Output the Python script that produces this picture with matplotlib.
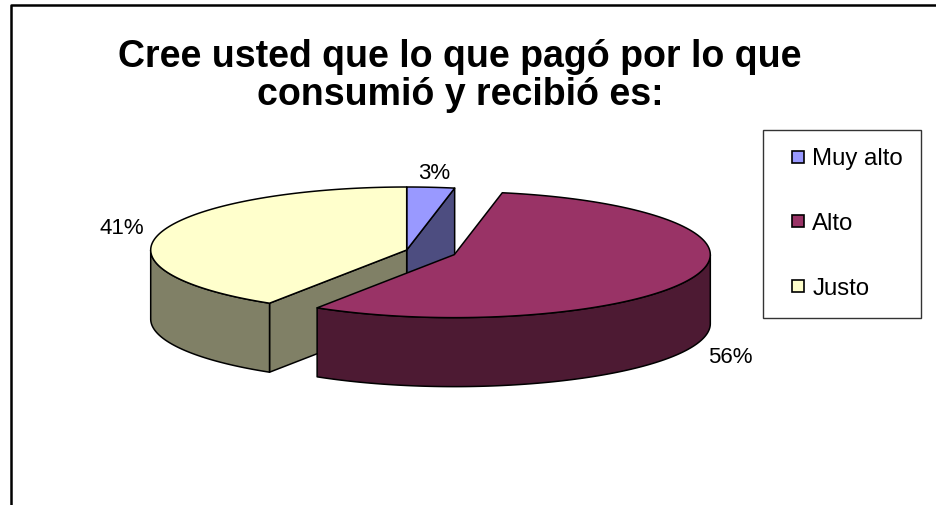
"""3-D style pie chart: Cree usted que lo que pagó por lo que consumió y recibió es."""
import numpy as np
import matplotlib
matplotlib.use("Agg")
import matplotlib.pyplot as plt
from matplotlib.patches import Polygon
from matplotlib.lines import Line2D

# data
labels = ["Muy alto", "Alto", "Justo"]
values = [3, 56, 41]
top_colors = ["#9999FF", "#993366", "#FFFFCC"]
side_colors = ["#4D4D80", "#4D1A33", "#808066"]
explode = [0.0, 0.2, 0.0]
title = "Cree usted que lo que pagó por lo que\nconsumió y recibió es:"

plt.rcParams["font.family"] = ["Liberation Sans", "DejaVu Sans"]

# layout (pixel space, y grows downward)
W, H = 937, 505
CX, CY = 406.7, 250.0      # centre of the top face
RA, RB = 256.0, 63.0       # ellipse radii
DEPTH = 69.0               # pie thickness
LW = 1.1


def ell(theta, cx, cy, dz=0.0):
    t = np.radians(theta)
    return np.column_stack([cx + RA * np.sin(t), cy - RB * np.cos(t) + dz])


def arc(t0, t1, cx, cy, dz=0.0, n=120):
    return ell(np.linspace(t0, t1, n), cx, cy, dz)


fig = plt.figure(figsize=(W / 100, H / 100), dpi=100)
ax = fig.add_axes([0, 0, 1, 1])
ax.set_xlim(0, W)
ax.set_ylim(H, 0)
ax.axis("off")

total = float(sum(values))
ends = np.cumsum(values) / total * 360.0
starts = np.concatenate([[0.0], ends[:-1]])


def poly(pts, color):
    ax.add_patch(Polygon(pts, closed=True, facecolor=color, edgecolor="black",
                         linewidth=LW, joinstyle="round"))


def draw_slice(i):
    s, e = starts[i], ends[i]
    mid = np.radians((s + e) / 2)
    cx = CX + explode[i] * RA * np.sin(mid)
    cy = CY - explode[i] * RB * np.cos(mid)
    c_top = np.array([[cx, cy]])
    c_bot = np.array([[cx, cy + DEPTH]])
    side = side_colors[i]
    # radial faces turned toward the viewer
    if np.sin(np.radians(s)) < -1e-9:
        p = ell(np.array([s]), cx, cy)
        poly(np.vstack([c_top, p, p + [0, DEPTH], c_bot]), side)
    if np.sin(np.radians(e)) > 1e-9:
        p = ell(np.array([e]), cx, cy)
        poly(np.vstack([c_top, p, p + [0, DEPTH], c_bot]), side)
    # outer wall (front half only)
    a0, a1 = max(s, 90.0), min(e, 270.0)
    if a1 > a0:
        top = arc(a0, a1, cx, cy)
        bot = arc(a0, a1, cx, cy, DEPTH)[::-1]
        poly(np.vstack([top, bot]), side)
    # top face
    poly(np.vstack([c_top, arc(s, e, cx, cy)]), top_colors[i])
    # percentage label
    k = 1.16
    lx = cx + RA * k * np.sin(mid)
    ly = cy - RB * 1.22 * np.cos(mid) + (DEPTH + 6 if np.cos(mid) < 0 else 0.0)
    ax.text(lx, ly, f"{values[i]:.0f}%", ha="center", va="center", fontsize=16)


order = [i for i in range(len(values)) if explode[i] == 0] + \
        [i for i in range(len(values)) if explode[i] > 0]
for i in order:
    draw_slice(i)

ax.text(460, 76, title, ha="center", va="center", fontsize=27,
        fontweight="bold", linespacing=1.1)

# outer chart frame (left and top edges only are in view)
ax.plot([11, 11, W], [H, 5, 5], color="black", linewidth=1.8,
        solid_capstyle="butt")

handles = [Line2D([], [], linestyle="none", marker="s", markersize=8.6,
                  markerfacecolor=c, markeredgecolor="black",
                  markeredgewidth=1.2) for c in top_colors]
leg = ax.legend(handles, labels, loc="upper left",
                bbox_to_anchor=(763 / W, 1 - 130 / H),
                bbox_transform=fig.transFigure, borderaxespad=0,
                fontsize=17.3, frameon=True, fancybox=False,
                borderpad=0.75, labelspacing=1.78, handlelength=1.45,
                handletextpad=-0.15)
leg.get_frame().set_edgecolor("black")
leg.get_frame().set_linewidth(1.0)

fig.savefig("out.png", dpi=100)
